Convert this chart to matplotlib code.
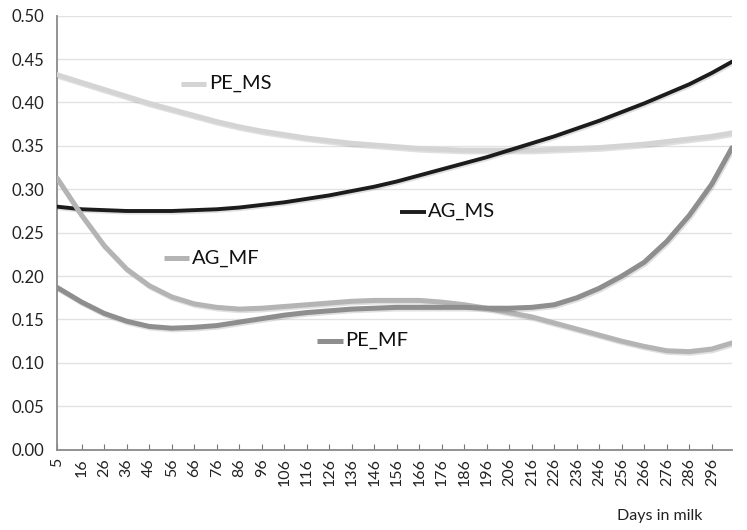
import matplotlib
matplotlib.use("Agg")
import matplotlib.pyplot as plt
import matplotlib.patheffects as pe

days = [5, 16, 26, 36, 46, 56, 66, 76, 86, 96, 106, 116, 126, 136, 146, 156,
        166, 176, 186, 196, 206, 216, 226, 236, 246, 256, 266, 276, 286, 296, 305]

pe_ms = [0.432, 0.423, 0.415, 0.407, 0.399, 0.392, 0.385, 0.378, 0.372, 0.367,
         0.363, 0.359, 0.356, 0.353, 0.351, 0.349, 0.347, 0.346, 0.345, 0.345,
         0.345, 0.345, 0.346, 0.347, 0.348, 0.350, 0.352, 0.355, 0.358, 0.361, 0.365]

ag_ms = [0.280, 0.277, 0.276, 0.275, 0.275, 0.275, 0.276, 0.277, 0.279, 0.282,
         0.285, 0.289, 0.293, 0.298, 0.303, 0.309, 0.316, 0.323, 0.330, 0.337,
         0.345, 0.353, 0.361, 0.370, 0.379, 0.389, 0.399, 0.410, 0.421, 0.434, 0.447]

ag_mf = [0.313, 0.270, 0.235, 0.208, 0.189, 0.176, 0.168, 0.164, 0.162, 0.163,
         0.165, 0.167, 0.169, 0.171, 0.172, 0.172, 0.172, 0.170, 0.167, 0.163,
         0.158, 0.153, 0.146, 0.139, 0.132, 0.125, 0.119, 0.114, 0.113, 0.116, 0.123]

pe_mf = [0.187, 0.170, 0.157, 0.148, 0.142, 0.140, 0.141, 0.143, 0.147, 0.151,
         0.155, 0.158, 0.160, 0.162, 0.163, 0.164, 0.164, 0.164, 0.164, 0.163,
         0.163, 0.164, 0.167, 0.175, 0.186, 0.200, 0.216, 0.240, 0.270, 0.306, 0.348]

tick_days = [5] + list(range(16, 297, 10))
y_ticks = [0.00, 0.05, 0.10, 0.15, 0.20, 0.25, 0.30, 0.35, 0.40, 0.45, 0.50]

# name, values, colour, line width, label position (axes fraction)
series = [
    ("PE_MS", pe_ms, "#d4d4d4", 3.6, (0.225, 0.843)),
    ("AG_MS", ag_ms, "#1c1c1c", 2.8, (0.550, 0.548)),
    ("AG_MF", ag_mf, "#b4b4b4", 3.6, (0.200, 0.442)),
    ("PE_MF", pe_mf, "#8e8e8e", 3.6, (0.427, 0.251)),
]

plt.rcParams['font.family'] = ['Lato', 'DejaVu Sans']

fig = plt.figure(figsize=(7.47, 5.30), dpi=100)
ax = fig.add_axes([0.0763, 0.1515, 0.9037, 0.8189])

shadow = [pe.SimpleLineShadow(offset=(0.8, -1.2), shadow_color="#000000", alpha=0.12),
          pe.Normal()]

for name, vals, color, lw, _ in series:
    ax.plot(days, vals, color=color, lw=lw, solid_capstyle="round",
            solid_joinstyle="round", path_effects=shadow, zorder=3)

# inline labels with short line samples
for name, vals, color, lw, (lx, ly) in series:
    ax.plot([lx - 0.042, lx - 0.004], [ly, ly], color=color, lw=lw,
            transform=ax.transAxes, solid_capstyle="butt", zorder=4)
    ax.text(lx, ly, name, transform=ax.transAxes, fontsize=14.5,
            va="center", ha="left", color="#111111", zorder=4)

ax.set_xlim(5, 305)
ax.set_ylim(0, 0.5)
ax.set_yticks(y_ticks)
ax.set_yticklabels([f"{v:.2f}" for v in y_ticks], fontsize=12, color="#222222")
ax.set_xticks(tick_days)
ax.set_xticklabels([str(d) for d in tick_days], rotation=90, fontsize=11.5,
                   color="#222222")
ax.tick_params(axis="y", length=0, pad=9)
ax.tick_params(axis="x", direction="in", length=4, color="#777777", pad=6)

ax.grid(axis="y", color="#e2e2e2", lw=1.0, zorder=0)
ax.set_axisbelow(True)
for side in ("top", "right"):
    ax.spines[side].set_visible(False)
ax.spines["left"].set_color("#8a8a8a")
ax.spines["bottom"].set_color("#8a8a8a")
ax.spines["left"].set_linewidth(1.3)
ax.spines["bottom"].set_linewidth(1.3)

fig.text(0.826, 0.018, "Days in milk", fontsize=11.5, color="#222222", ha="left",
         va="baseline")

fig.savefig("out.png", dpi=100)
